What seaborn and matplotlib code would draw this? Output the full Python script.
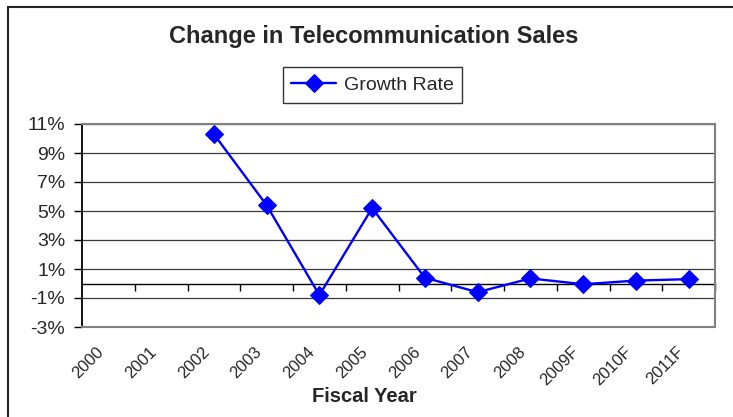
import numpy as np
import pandas as pd
import matplotlib
matplotlib.use("Agg")
import matplotlib.pyplot as plt
from matplotlib.lines import Line2D
from matplotlib.ticker import FuncFormatter
from matplotlib.transforms import ScaledTranslation
import seaborn as sns

# Fiscal years and year-over-year sales growth (percent); no figures for 2000-2001
years = ["2000", "2001", "2002", "2003", "2004", "2005", "2006", "2007",
         "2008", "2009F", "2010F", "2011F"]
growth = [np.nan, np.nan, 10.3, 5.4, -0.8, 5.2, 0.4, -0.6, 0.35, -0.05, 0.2, 0.3]
y_ticks = [11, 9, 7, 5, 3, 1, -1, -3]

sns.set_theme(style="white")
plt.rcParams["font.family"] = ["Liberation Sans", "DejaVu Sans"]
plt.rcParams["axes.unicode_minus"] = False

df = pd.DataFrame({"pos": np.arange(len(years)), "growth": growth})

fig = plt.figure(figsize=(7.33, 4.17), dpi=100)
ax = fig.add_axes([82 / 733, 1 - 327 / 417, 633 / 733, 203 / 417])

sns.lineplot(data=df, x="pos", y="growth", ax=ax, color="#0000FF",
             linewidth=1.7, marker="D", markersize=9.5,
             markeredgecolor="#0000FF", label="Growth Rate", zorder=5)

ax.set_xlim(-0.5, len(years) - 0.5)
ax.set_ylim(min(y_ticks), max(y_ticks))

# horizontal gridlines every 2 %
for v in y_ticks:
    ax.axhline(v, color="#3a3a3a", linewidth=0.9, zorder=1)

ax.set_yticks(y_ticks)
ax.yaxis.set_major_formatter(FuncFormatter(lambda v, p: f"{v:.0f}%"))
ax.tick_params(axis="y", direction="out", length=6, width=1, color="black",
               labelsize=14, pad=6, left=True)

ax.set_xticks(df["pos"])
ax.set_xticklabels(years, rotation=45, ha="right", va="center",
                   rotation_mode="anchor", fontsize=12)
ax.tick_params(axis="x", length=0, pad=16)
shift = ScaledTranslation(-7 / 100, 0, fig.dpi_scale_trans)
for lab in ax.get_xticklabels():
    lab.set_transform(lab.get_transform() + shift)

for side in ["top", "right", "bottom"]:
    ax.spines[side].set_color("#808080")
    ax.spines[side].set_linewidth(1.5)
ax.spines["left"].set_color("black")
ax.spines["left"].set_linewidth(1.3)

# category axis crossing at zero, with ticks between categories
zero_axis = ax.secondary_xaxis(0, transform=ax.transData)
zero_axis.set_alignment("bottom")
zero_axis.set_xticks(np.arange(0.5, len(years), 1.0))
zero_axis.set_xticklabels([])
zero_axis.tick_params(direction="out", length=5, width=1, color="black")
zero_axis.spines["bottom"].set_color("black")
zero_axis.spines["bottom"].set_linewidth(1.0)

ax.set_xlabel("Fiscal Year", fontsize=14.5, fontweight="bold")
ax.xaxis.set_label_coords(0.4455, -0.34)
ax.xaxis.label.set_verticalalignment("center")
ax.set_ylabel("")

leg = ax.legend(loc="center", bbox_to_anchor=(372.5 / 733, 1 - 85 / 417),
                bbox_transform=fig.transFigure, fontsize=14, frameon=True,
                fancybox=False, edgecolor="black", handlelength=2.3,
                borderpad=0.45, handletextpad=0.4)
leg.get_frame().set_linewidth(1.0)

fig.text(374 / 733, 1 - 36 / 417, "Change in Telecommunication Sales",
         ha="center", va="center", fontsize=17, fontweight="bold")

# outer chart frame
fx = 8 / 733
fy = 1 - 6.5 / 417
fig.add_artist(Line2D([fx, fx], [0, fy], color="#222222", linewidth=1.5,
                      transform=fig.transFigure))
fig.add_artist(Line2D([fx, 1], [fy, fy], color="#222222", linewidth=1.5,
                      transform=fig.transFigure))

fig.savefig("out.png", dpi=100)
